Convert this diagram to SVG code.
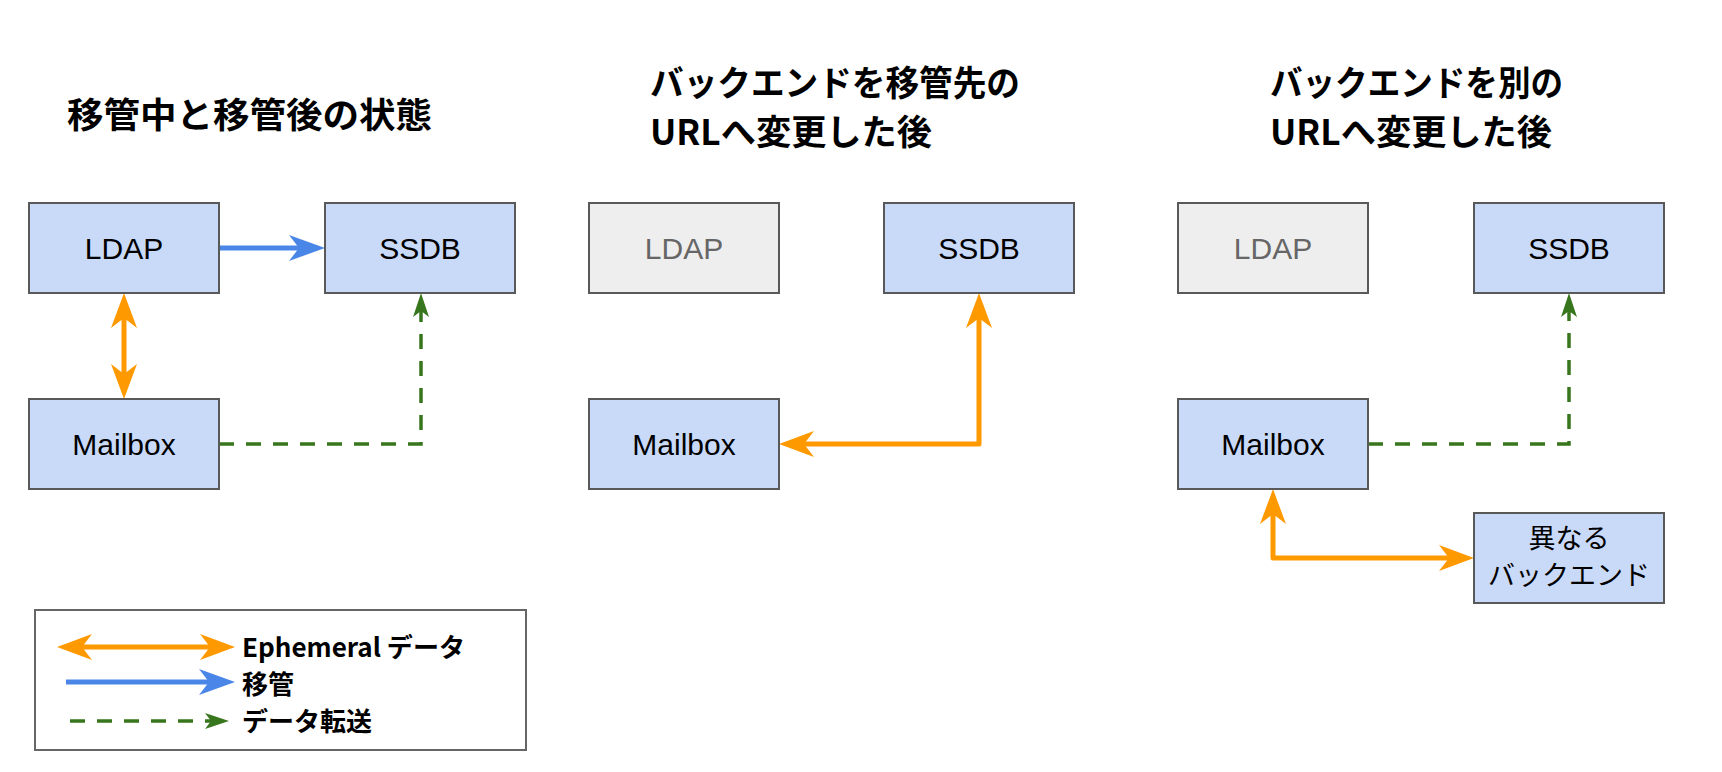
<svg xmlns="http://www.w3.org/2000/svg" width="1722" height="772" viewBox="0 0 1722 772">
<style>
.box{fill:#c9daf8;stroke:#595959;stroke-width:2}
.off{fill:#eeeeee;stroke:#595959;stroke-width:2}
.lbl{font-family:"Liberation Sans",Arial,sans-serif;font-size:30px;fill:#000;text-anchor:middle}
.lbloff{fill:#666666}
.jp{font-family:"Noto Sans CJK JP","Noto Sans",sans-serif;font-size:27px;fill:#000;text-anchor:middle}
.title{font-family:"Noto Sans CJK JP","Noto Sans",sans-serif;font-size:35px;font-weight:bold;fill:#000}
.leg{font-family:"Noto Sans CJK JP","Liberation Sans",sans-serif;font-size:26px;font-weight:bold;fill:#000}
.orange{fill:none;stroke:#ff9900;stroke-width:5;stroke-linejoin:round;marker-start:url(#ho);marker-end:url(#ho)}
.blue{fill:none;stroke:#4a86e8;stroke-width:5;marker-end:url(#hb)}
.green{fill:none;stroke:#38761d;stroke-width:3.5;stroke-dasharray:15 12;marker-end:url(#hg)}
</style>
<defs>
<marker id="ho" markerUnits="userSpaceOnUse" markerWidth="60" markerHeight="40" viewBox="-20 -20 60 40" refX="0" refY="0" orient="auto-start-reverse" overflow="visible">
<path d="M20,0 L-15,-13 L-5,0 L-15,13 Z" fill="#ff9900"/>
</marker>
<marker id="hb" markerUnits="userSpaceOnUse" markerWidth="60" markerHeight="40" viewBox="-20 -20 60 40" refX="0" refY="0" orient="auto" overflow="visible">
<path d="M20,0 L-16,-13 L-6,0 L-16,13 Z" fill="#4a86e8"/>
</marker>
<marker id="hg" markerUnits="userSpaceOnUse" markerWidth="40" markerHeight="30" viewBox="-20 -15 40 30" refX="0" refY="0" orient="auto" overflow="visible">
<path d="M10,0 L-14,-8 L-8,0 L-14,8 Z" fill="#38761d"/>
</marker>
</defs>

<g id="titles">
<text class="title" x="67" y="128" textLength="365" lengthAdjust="spacingAndGlyphs">移管中と移管後の状態</text>
<text class="title" x="650" y="96" textLength="370" lengthAdjust="spacingAndGlyphs">バックエンドを移管先の</text>
<text class="title" x="650" y="145" textLength="282" lengthAdjust="spacingAndGlyphs">URLへ変更した後</text>
<text class="title" x="1270" y="96" textLength="293" lengthAdjust="spacingAndGlyphs">バックエンドを別の</text>
<text class="title" x="1270" y="145" textLength="282" lengthAdjust="spacingAndGlyphs">URLへ変更した後</text>
</g>

<g id="connectors">
<path class="blue" d="M219,248 H305"/>
<path class="orange" d="M124,313 V379"/>
<path class="green" d="M219,444 H421 V303"/>
<path class="orange" d="M979,313 V444 H799"/>
<path class="green" d="M1368,444 H1569 V303"/>
<path class="orange" d="M1273,509 V558 H1454"/>
</g>

<g id="p1-ldap"><rect class="box" x="29" y="203" width="190" height="90"/><text class="lbl" x="124" y="259">LDAP</text></g>
<g id="p1-ssdb"><rect class="box" x="325" y="203" width="190" height="90"/><text class="lbl" x="420" y="259">SSDB</text></g>
<g id="p1-mailbox"><rect class="box" x="29" y="399" width="190" height="90"/><text class="lbl" x="124" y="455">Mailbox</text></g>

<g id="p2-ldap"><rect class="off" x="589" y="203" width="190" height="90"/><text class="lbl lbloff" x="684" y="259">LDAP</text></g>
<g id="p2-ssdb"><rect class="box" x="884" y="203" width="190" height="90"/><text class="lbl" x="979" y="259">SSDB</text></g>
<g id="p2-mailbox"><rect class="box" x="589" y="399" width="190" height="90"/><text class="lbl" x="684" y="455">Mailbox</text></g>

<g id="p3-ldap"><rect class="off" x="1178" y="203" width="190" height="90"/><text class="lbl lbloff" x="1273" y="259">LDAP</text></g>
<g id="p3-ssdb"><rect class="box" x="1474" y="203" width="190" height="90"/><text class="lbl" x="1569" y="259">SSDB</text></g>
<g id="p3-mailbox"><rect class="box" x="1178" y="399" width="190" height="90"/><text class="lbl" x="1273" y="455">Mailbox</text></g>
<g id="p3-other"><rect class="box" x="1474" y="513" width="190" height="90"/><text class="jp" x="1569" y="548">異なる</text><text class="jp" x="1569" y="585">バックエンド</text></g>

<g id="legend">
<rect x="35" y="610" width="491" height="140" fill="none" stroke="#666666" stroke-width="2"/>
<path class="orange" d="M77,647 H215"/>
<path class="blue" d="M66,682 H215"/>
<path class="green" d="M70,721 H219"/>
<text class="leg" x="242" y="657" textLength="223" lengthAdjust="spacingAndGlyphs">Ephemeral データ</text>
<text class="leg" x="242" y="694">移管</text>
<text class="leg" x="242" y="731">データ転送</text>
</g>
</svg>
